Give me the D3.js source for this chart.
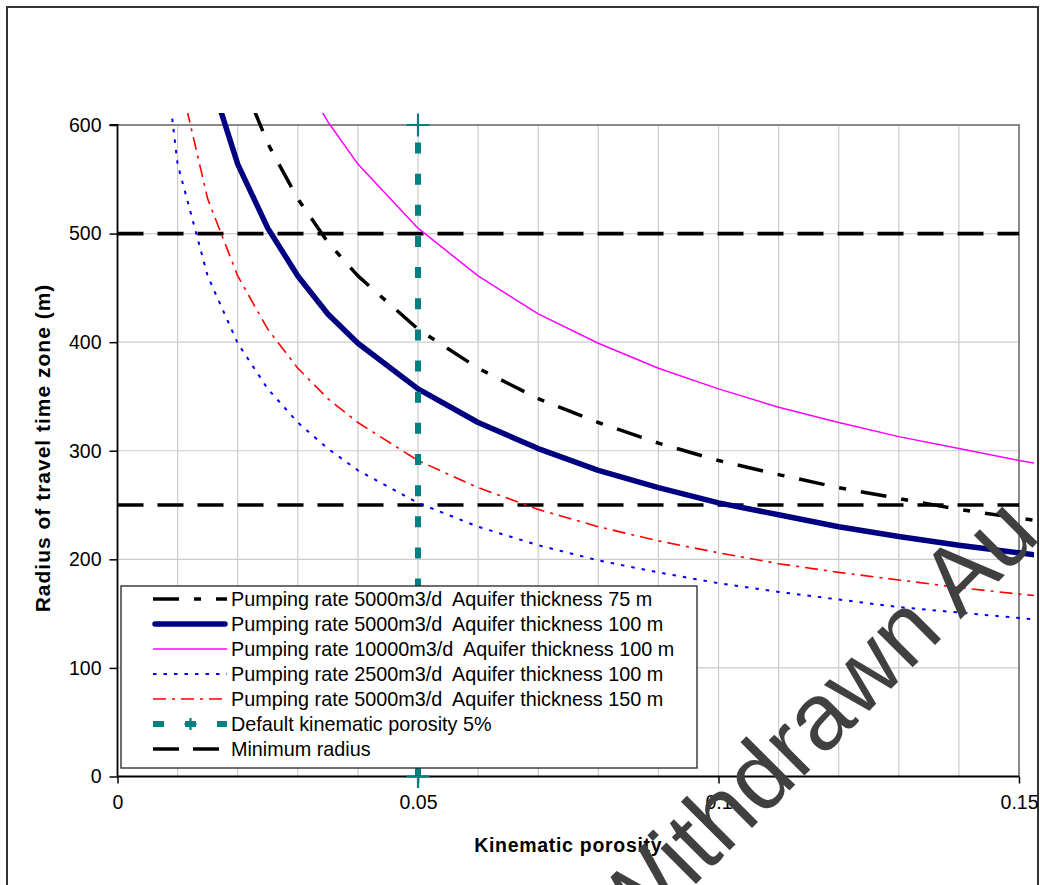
<!DOCTYPE html>
<html>
<head>
<meta charset="utf-8">
<script src="https://cdn.jsdelivr.net/npm/d3@7/dist/d3.min.js"></script>
<style>
  body { margin: 0; background: #ffffff; }
  svg text { font-family: "Liberation Sans", Arial, sans-serif; white-space: pre; }
</style>
</head>
<body>
<svg id="chart" width="1040" height="885"></svg>
<script>
// ---------------- DATA ----------------
const porosity = [0.005, 0.01, 0.015, 0.02, 0.025, 0.03, 0.035, 0.04, 0.05, 0.06, 0.07, 0.08, 0.09, 0.10, 0.11, 0.12, 0.13, 0.14, 0.15, 0.16];

const q5000h75   = [1303, 921, 752, 651, 583, 532, 492, 461, 412, 376, 348, 326, 307, 291, 278, 266, 256, 246, 238, 230];
const q5000h100  = [1128, 798, 651, 564, 505, 461, 426, 399, 357, 326, 302, 282, 266, 252, 241, 230, 221, 213, 206, 199];
const q10000h100 = [1596, 1128, 921, 798, 714, 651, 603, 564, 505, 461, 426, 399, 376, 357, 340, 326, 313, 302, 291, 282];
const q2500h100  = [798, 564, 461, 399, 357, 326, 302, 282, 252, 230, 213, 199, 188, 178, 170, 163, 156, 151, 146, 141];
const q5000h150  = [921, 651, 532, 461, 412, 376, 348, 326, 291, 266, 246, 230, 217, 206, 196, 188, 181, 174, 168, 163];

const defaultPorosityX = [0.05, 0.05];
const defaultPorosityY = [0, 600];

const minRadiusX = [0, 0.15];
const minRadiusLevels = [500, 250];

const seriesNames = [
  "Pumping rate 5000m3/d  Aquifer thickness 75 m",
  "Pumping rate 5000m3/d  Aquifer thickness 100 m",
  "Pumping rate 10000m3/d  Aquifer thickness 100 m",
  "Pumping rate 2500m3/d  Aquifer thickness 100 m",
  "Pumping rate 5000m3/d  Aquifer thickness 150 m",
  "Default kinematic porosity 5%",
  "Minimum radius"
];

const yTicks = [0, 100, 200, 300, 400, 500, 600];
const xTicks = [0, 0.05, 0.1, 0.15];
const xGrid = [0.01,0.02,0.03,0.04,0.05,0.06,0.07,0.08,0.09,0.10,0.11,0.12,0.13,0.14];

const xTitle = "Kinematic porosity";
const yTitle = "Radius of travel time zone (m)";
const watermark = "Withdrawn Au";

// ---------------- STYLES ----------------
const curveStyles = [
  { color: "#000000", width: 3.5, dash: "26,15,7,15", cap: "butt" },
  { color: "#000080", width: 5.5, dash: null, cap: "round" },
  { color: "#ff00ff", width: 1.5, dash: null, cap: "butt" },
  { color: "#0000ff", width: 2,   dash: "3.5,7", cap: "butt" },
  { color: "#ff0000", width: 1.6, dash: "13,6,3,6", cap: "butt" }
];
const curveData = [q5000h75, q5000h100, q10000h100, q2500h100, q5000h150];

// ---------------- LAYOUT ----------------
const svg = d3.select("#chart");
const L = 117.5, R = 1019, T = 125, B = 776.5;

const x = d3.scaleLinear().domain([0, 0.15]).range([L, R]);
const y = d3.scaleLinear().domain([0, 600]).range([B, T]);

// outer frame
svg.append("rect")
  .attr("x", 7).attr("y", 7).attr("width", 1031).attr("height", 900)
  .attr("fill", "#ffffff").attr("stroke", "#333333").attr("stroke-width", 2);

// gridlines
const grid = svg.append("g");
grid.selectAll("line.h").data(yTicks.filter(v => v > 0 && v < 600)).enter().append("line")
  .attr("x1", L).attr("x2", R).attr("y1", d => y(d)).attr("y2", d => y(d))
  .attr("stroke", "#cccccc").attr("stroke-width", 1.2);
grid.selectAll("line.v").data(xGrid).enter().append("line")
  .attr("x1", d => x(d)).attr("x2", d => x(d)).attr("y1", T).attr("y2", B)
  .attr("stroke", "#cccccc").attr("stroke-width", 1.2);

// plot border (top and right)
svg.append("path")
  .attr("d", `M${L},${T}H${R}V${B}`)
  .attr("fill", "none").attr("stroke", "#888888").attr("stroke-width", 2);

// clip
svg.append("clipPath").attr("id", "clip").append("rect")
  .attr("x", L).attr("y", 113).attr("width", 1034 - L).attr("height", B - 113 + 2);

const line = d3.line().x(d => x(d[0])).y(d => y(d[1]));

// minimum radius lines
minRadiusLevels.forEach(lv => {
  svg.append("path")
    .datum(minRadiusX.map(v => [v, lv]))
    .attr("d", line)
    .attr("fill", "none").attr("stroke", "#000000").attr("stroke-width", 3.6)
    .attr("stroke-dasharray", "26,14");
});

// curves
const curvesG = svg.append("g").attr("clip-path", "url(#clip)");
curveData.forEach((vals, i) => {
  const st = curveStyles[i];
  curvesG.append("path")
    .datum(porosity.map((p, j) => [p, vals[j]]))
    .attr("d", line)
    .attr("fill", "none")
    .attr("stroke", st.color)
    .attr("stroke-width", st.width)
    .attr("stroke-linejoin", "round")
    .attr("stroke-linecap", st.cap)
    .attr("stroke-dasharray", st.dash);
});

// default porosity line (drawn from bottom up)
svg.append("path")
  .datum(defaultPorosityX.map((v, i) => [v, defaultPorosityY[i]]))
  .attr("d", line)
  .attr("fill", "none").attr("stroke", "#008080").attr("stroke-width", 6)
  .attr("stroke-dasharray", "11,20.15");

// axes
const yAxis = svg.append("g").attr("transform", `translate(${L},0)`)
  .call(d3.axisLeft(y).tickValues(yTicks).tickSize(8).tickPadding(8).tickFormat(d3.format("d")));
yAxis.select(".domain").attr("stroke", "#000").attr("stroke-width", 1.8).attr("d", `M-8,${T}H0V${B}`);
yAxis.selectAll(".tick line").attr("stroke", "#000").attr("stroke-width", 1.5);
yAxis.selectAll(".tick text").attr("font-size", 19.5).attr("fill", "#000")
  .attr("font-family", "Liberation Sans, Arial, sans-serif");

const xAxis = svg.append("g").attr("transform", `translate(0,${B})`)
  .call(d3.axisBottom(x).tickValues(xTicks).tickSize(7).tickPadding(12)
    .tickFormat(d => d === 0 ? "0" : String(d)));
xAxis.select(".domain").attr("stroke", "#000").attr("stroke-width", 1.8).attr("d", `M${L},0H${R}`);
xAxis.selectAll(".tick line").attr("stroke", "#000").attr("stroke-width", 1.5);
xAxis.selectAll(".tick text").attr("font-size", 19.5).attr("fill", "#000")
  .attr("font-family", "Liberation Sans, Arial, sans-serif");

// plus markers for default porosity
const plus = (g, cx, cy, s) => {
  g.append("path")
    .attr("d", `M${cx - s},${cy}H${cx + s}M${cx},${cy - s}V${cy + s}`)
    .attr("stroke", "#008080").attr("stroke-width", 2.2).attr("fill", "none");
};
defaultPorosityY.forEach((v, i) => plus(svg, x(defaultPorosityX[i]), y(v), 11.5));

// legend
const lg = svg.append("g");
const LX = 121, LY = 586, LW = 576, LH = 182;
lg.append("rect").attr("x", LX).attr("y", LY).attr("width", LW).attr("height", LH)
  .attr("fill", "#ffffff").attr("stroke", "#222222").attr("stroke-width", 1.3);

const legendStyles = [
  curveStyles[0], curveStyles[1], curveStyles[2], curveStyles[3], curveStyles[4],
  { color: "#008080", width: 6, dash: "11,21", cap: "butt" },
  { color: "#000000", width: 3.6, dash: "26,14", cap: "butt" }
];
seriesNames.forEach((name, i) => {
  const cy = 599 + i * 25;
  const st = legendStyles[i];
  const x0 = 153, x1 = 227;
  lg.append("line")
    .attr("x1", st.cap === "round" ? x0 + 2 : x0).attr("x2", st.cap === "round" ? x1 - 2 : x1)
    .attr("y1", cy).attr("y2", cy)
    .attr("stroke", st.color).attr("stroke-width", st.width)
    .attr("stroke-linecap", st.cap).attr("stroke-dasharray", st.dash);
  if (i === 5) plus(lg, 190.5, cy, 6);
  lg.append("text").attr("x", 231).attr("y", cy).attr("dy", "0.36em")
    .attr("font-size", 19.8).attr("fill", "#000").text(name);
});

// axis titles
svg.append("text").attr("x", (L + R) / 2).attr("y", 852)
  .attr("text-anchor", "middle").attr("font-size", 19.5).attr("font-weight", "bold")
  .attr("letter-spacing", "0.7px").attr("fill", "#000").text(xTitle);

svg.append("text").attr("transform", "translate(50,448) rotate(-90)")
  .attr("text-anchor", "middle").attr("font-size", 21).attr("font-weight", "bold")
  .attr("letter-spacing", "1px").attr("fill", "#000").text(yTitle);

// watermark
svg.append("text").attr("transform", "translate(628,952) rotate(-45)")
  .attr("font-size", 95).attr("fill", "#404040").text(watermark);
</script>
</body>
</html>
